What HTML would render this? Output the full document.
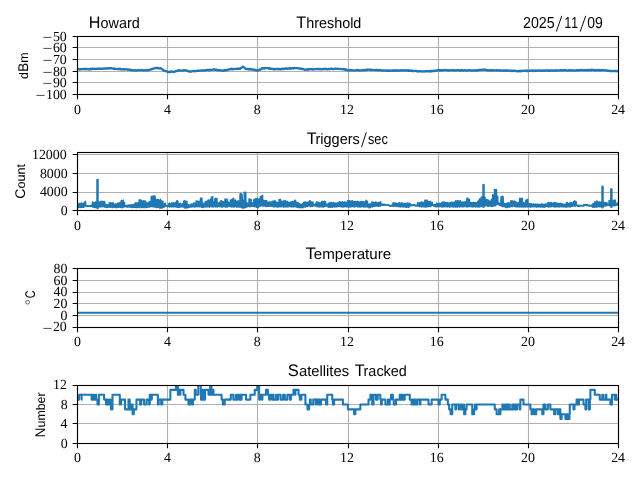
<!DOCTYPE html><html><head><meta charset="utf-8"><title>plot</title><style>html,body{margin:0;padding:0;background:#fff;}svg{display:block;will-change:transform;}text{fill:#000;text-rendering:geometricPrecision;font-kerning:none;white-space:pre;}.s{font-family:"Liberation Serif",serif;}.t{font-family:"Liberation Sans",sans-serif;}</style></head><body>
<svg width="640" height="480" viewBox="0 0 640 480">
<rect width="640" height="480" fill="#fff"/>
<path d="M77.5 36.5V94.5M167.5 36.5V94.5M257.5 36.5V94.5M348.5 36.5V94.5M438.5 36.5V94.5M528.5 36.5V94.5M618.5 36.5V94.5M77.5 36.5H618.5M77.5 47.5H618.5M77.5 59.5H618.5M77.5 71.5H618.5M77.5 82.5H618.5M77.5 94.5H618.5" stroke="#b0b0b0" stroke-width="1.11" fill="none"/>
<clipPath id="c0"><rect x="77.5" y="36.5" width="541.0" height="58.0"/></clipPath><g clip-path="url(#c0)"><path d="M78.0 69.27 L78.6 69.16 L79.2 69.45 L79.8 69.09 L80.4 69.35 L81.0 69.23 L81.6 69.03 L82.2 69.29 L82.8 68.99 L83.4 69.21 L84.0 68.98 L84.6 68.98 L85.2 69.16 L85.8 69.39 L86.4 68.95 L87.0 69.00 L87.6 69.22 L88.2 69.40 L88.8 69.16 L89.4 69.04 L90.0 69.37 L90.6 68.79 L91.2 69.26 L91.8 68.90 L92.4 68.79 L93.0 68.76 L93.6 68.86 L94.2 69.14 L94.8 68.74 L95.4 68.97 L96.0 68.98 L96.6 68.81 L97.2 68.89 L97.8 68.58 L98.4 68.56 L99.0 68.63 L99.6 68.90 L100.2 68.73 L100.8 68.64 L101.4 68.78 L102.0 68.66 L102.6 68.54 L103.2 68.80 L103.8 68.71 L104.4 68.40 L105.0 68.57 L105.6 68.50 L106.2 68.68 L106.8 68.56 L107.4 68.26 L108.0 68.64 L108.6 68.09 L109.2 68.23 L109.8 68.41 L110.4 68.10 L111.0 68.35 L111.6 68.13 L112.2 68.56 L112.8 68.66 L113.4 68.60 L114.0 68.83 L114.6 68.54 L115.2 68.82 L115.8 68.81 L116.4 68.85 L117.0 68.83 L117.6 69.10 L118.2 69.21 L118.8 68.97 L119.4 69.13 L120.0 68.81 L120.6 69.24 L121.2 69.25 L121.8 69.50 L122.4 69.44 L123.0 69.16 L123.6 69.26 L124.2 69.47 L124.8 69.13 L125.4 69.43 L126.0 69.30 L126.6 69.33 L127.2 69.36 L127.8 69.84 L128.4 69.52 L129.0 69.65 L129.6 69.79 L130.2 70.14 L130.8 69.73 L131.4 70.01 L132.0 70.13 L132.6 70.39 L133.2 70.41 L133.8 70.50 L134.4 70.21 L135.0 70.32 L135.6 70.28 L136.2 70.59 L136.8 70.63 L137.4 70.14 L138.0 70.14 L138.6 70.17 L139.2 70.17 L139.8 70.31 L140.4 70.37 L141.0 70.16 L141.6 70.00 L142.2 70.24 L142.8 70.21 L143.4 70.32 L144.0 70.54 L144.6 70.38 L145.2 70.27 L145.8 70.32 L146.4 70.30 L147.0 69.83 L147.6 70.25 L148.2 70.09 L148.8 70.05 L149.4 69.92 L150.0 69.59 L150.6 69.50 L151.2 69.21 L151.8 69.36 L152.4 68.85 L153.0 68.69 L153.6 68.61 L154.2 68.42 L154.8 68.36 L155.4 68.02 L156.0 67.83 L156.6 67.96 L157.2 67.98 L157.8 68.18 L158.4 68.02 L159.0 68.57 L159.6 68.46 L160.2 68.23 L160.8 68.34 L161.4 68.68 L162.0 69.09 L162.6 69.34 L163.2 70.18 L163.8 70.66 L164.4 70.75 L165.0 71.06 L165.6 70.98 L166.2 71.15 L166.8 71.45 L167.4 71.57 L168.0 72.06 L168.6 71.79 L169.2 71.67 L169.8 72.19 L170.4 71.90 L171.0 71.64 L171.6 71.84 L172.2 71.49 L172.8 71.76 L173.4 71.99 L174.0 71.89 L174.6 71.75 L175.2 71.33 L175.8 71.20 L176.4 70.88 L177.0 71.04 L177.6 70.69 L178.2 70.64 L178.8 70.27 L179.4 70.21 L180.0 70.56 L180.6 70.67 L181.2 70.59 L181.8 70.56 L182.4 70.57 L183.0 70.52 L183.6 70.21 L184.2 70.39 L184.8 70.30 L185.4 70.21 L186.0 70.32 L186.6 70.58 L187.2 70.67 L187.8 71.04 L188.4 71.31 L189.0 71.11 L189.6 71.51 L190.2 71.65 L190.8 71.74 L191.4 71.37 L192.0 71.21 L192.6 71.14 L193.2 71.05 L193.8 70.99 L194.4 71.17 L195.0 71.26 L195.6 71.15 L196.2 70.86 L196.8 70.90 L197.4 70.92 L198.0 70.46 L198.6 70.77 L199.2 70.88 L199.8 70.77 L200.4 70.72 L201.0 70.52 L201.6 70.31 L202.2 70.64 L202.8 70.33 L203.4 70.58 L204.0 70.65 L204.6 70.27 L205.2 70.24 L205.8 70.53 L206.4 70.35 L207.0 69.97 L207.6 69.89 L208.2 69.85 L208.8 70.25 L209.4 70.14 L210.0 69.69 L210.6 70.05 L211.2 70.09 L211.8 69.85 L212.4 69.61 L213.0 69.68 L213.6 69.38 L214.2 69.26 L214.8 69.79 L215.4 69.70 L216.0 69.72 L216.6 70.07 L217.2 69.87 L217.8 70.23 L218.4 70.30 L219.0 70.03 L219.6 70.16 L220.2 70.28 L220.8 70.35 L221.4 70.66 L222.0 70.56 L222.6 70.64 L223.2 70.35 L223.8 70.71 L224.4 70.26 L225.0 70.21 L225.6 70.18 L226.2 70.26 L226.8 69.86 L227.4 70.04 L228.0 69.68 L228.6 69.59 L229.2 69.47 L229.8 69.06 L230.4 69.20 L231.0 68.93 L231.6 68.80 L232.2 69.24 L232.8 68.84 L233.4 68.99 L234.0 69.11 L234.6 68.98 L235.2 68.81 L235.8 68.90 L236.4 68.91 L237.0 69.05 L237.6 68.64 L238.2 68.91 L238.8 68.72 L239.4 68.74 L240.0 68.86 L240.6 68.27 L241.2 67.87 L241.8 67.55 L242.4 67.21 L243.0 66.68 L243.6 67.21 L244.2 67.58 L244.8 68.02 L245.4 68.56 L246.0 68.85 L246.6 68.92 L247.2 68.92 L247.8 69.23 L248.4 69.11 L249.0 69.25 L249.6 69.32 L250.2 68.94 L250.8 69.15 L251.4 69.49 L252.0 69.58 L252.6 69.31 L253.2 69.45 L253.8 69.79 L254.4 69.72 L255.0 69.97 L255.6 70.02 L256.2 70.46 L256.8 70.48 L257.4 70.50 L258.0 70.01 L258.6 70.30 L259.2 70.18 L259.8 69.51 L260.4 69.59 L261.0 69.28 L261.6 68.47 L262.2 68.55 L262.8 68.17 L263.4 68.20 L264.0 68.49 L264.6 68.37 L265.2 67.95 L265.8 68.09 L266.4 68.19 L267.0 68.17 L267.6 68.17 L268.2 68.32 L268.8 68.65 L269.4 68.31 L270.0 68.72 L270.6 68.73 L271.2 68.56 L271.8 68.84 L272.4 69.08 L273.0 69.02 L273.6 68.76 L274.2 69.32 L274.8 69.22 L275.4 69.34 L276.0 68.83 L276.6 68.93 L277.2 68.81 L277.8 69.26 L278.4 68.96 L279.0 68.89 L279.6 69.08 L280.2 69.34 L280.8 69.24 L281.4 68.86 L282.0 68.75 L282.6 69.17 L283.2 68.92 L283.8 68.96 L284.4 68.55 L285.0 68.48 L285.6 68.82 L286.2 68.62 L286.8 68.36 L287.4 68.84 L288.0 68.62 L288.6 68.67 L289.2 68.21 L289.8 68.64 L290.4 68.13 L291.0 68.57 L291.6 68.29 L292.2 68.18 L292.8 68.27 L293.4 68.46 L294.0 68.03 L294.6 67.91 L295.2 68.19 L295.8 68.07 L296.4 68.06 L297.0 68.15 L297.6 68.14 L298.2 68.29 L298.8 68.42 L299.4 68.47 L300.0 68.81 L300.6 68.58 L301.2 68.80 L301.8 68.77 L302.4 69.03 L303.0 68.99 L303.6 69.29 L304.2 69.31 L304.8 69.88 L305.4 69.72 L306.0 69.44 L306.6 69.55 L307.2 69.77 L307.8 69.21 L308.4 69.58 L309.0 69.28 L309.6 69.26 L310.2 69.41 L310.8 69.08 L311.4 69.14 L312.0 69.26 L312.6 69.45 L313.2 69.09 L313.8 69.39 L314.4 69.33 L315.0 69.31 L315.6 69.18 L316.2 69.15 L316.8 68.97 L317.4 69.00 L318.0 68.95 L318.6 69.34 L319.2 69.04 L319.8 68.97 L320.4 68.91 L321.0 69.35 L321.6 69.36 L322.2 69.23 L322.8 68.98 L323.4 68.95 L324.0 68.97 L324.6 69.05 L325.2 68.86 L325.8 69.02 L326.4 68.90 L327.0 69.31 L327.6 69.30 L328.2 69.03 L328.8 68.85 L329.4 69.28 L330.0 68.89 L330.6 68.91 L331.2 68.70 L331.8 68.93 L332.4 68.98 L333.0 69.00 L333.6 68.82 L334.2 69.00 L334.8 68.70 L335.4 68.86 L336.0 68.75 L336.6 68.94 L337.2 68.73 L337.8 68.71 L338.4 68.88 L339.0 68.84 L339.6 69.05 L340.2 69.02 L340.8 69.15 L341.4 69.09 L342.0 69.13 L342.6 69.23 L343.2 68.93 L343.8 68.99 L344.4 69.56 L345.0 69.24 L345.6 69.76 L346.2 69.90 L346.8 69.72 L347.4 70.33 L348.0 70.38 L348.6 70.23 L349.2 70.30 L349.8 70.36 L350.4 69.97 L351.0 70.21 L351.6 70.21 L352.2 70.42 L352.8 70.42 L353.4 70.44 L354.0 70.31 L354.6 70.51 L355.2 70.39 L355.8 70.41 L356.4 70.15 L357.0 70.04 L357.6 70.11 L358.2 70.26 L358.8 70.12 L359.4 70.57 L360.0 70.39 L360.6 70.40 L361.2 70.36 L361.8 70.36 L362.4 70.20 L363.0 69.87 L363.6 70.31 L364.2 70.25 L364.8 70.06 L365.4 70.04 L366.0 70.08 L366.6 69.69 L367.2 70.05 L367.8 69.72 L368.4 69.58 L369.0 69.66 L369.6 69.90 L370.2 69.60 L370.8 69.95 L371.4 70.13 L372.0 69.87 L372.6 69.84 L373.2 69.93 L373.8 70.09 L374.4 70.17 L375.0 70.11 L375.6 70.16 L376.2 69.85 L376.8 69.93 L377.4 70.03 L378.0 70.35 L378.6 70.12 L379.2 70.32 L379.8 70.02 L380.4 70.08 L381.0 70.24 L381.6 70.51 L382.2 70.55 L382.8 70.57 L383.4 70.37 L384.0 70.53 L384.6 70.53 L385.2 70.56 L385.8 70.39 L386.4 70.86 L387.0 70.43 L387.6 70.89 L388.2 70.86 L388.8 70.30 L389.4 70.56 L390.0 70.77 L390.6 70.85 L391.2 70.53 L391.8 70.41 L392.4 70.37 L393.0 70.80 L393.6 70.36 L394.2 70.57 L394.8 70.30 L395.4 70.52 L396.0 70.77 L396.6 70.28 L397.2 70.69 L397.8 70.51 L398.4 70.73 L399.0 70.62 L399.6 70.34 L400.2 70.74 L400.8 70.49 L401.4 70.21 L402.0 70.20 L402.6 70.50 L403.2 70.47 L403.8 70.38 L404.4 70.28 L405.0 70.41 L405.6 70.39 L406.2 70.70 L406.8 70.20 L407.4 70.65 L408.0 70.70 L408.6 70.28 L409.2 70.82 L409.8 70.74 L410.4 70.90 L411.0 70.59 L411.6 70.69 L412.2 70.75 L412.8 71.17 L413.4 70.97 L414.0 70.89 L414.6 70.98 L415.2 70.94 L415.8 70.85 L416.4 70.94 L417.0 71.43 L417.6 71.12 L418.2 71.51 L418.8 71.10 L419.4 71.11 L420.0 71.26 L420.6 71.06 L421.2 71.17 L421.8 71.52 L422.4 71.48 L423.0 71.44 L423.6 71.33 L424.2 71.50 L424.8 71.51 L425.4 71.28 L426.0 71.38 L426.6 70.98 L427.2 71.39 L427.8 71.22 L428.4 71.40 L429.0 71.34 L429.6 71.12 L430.2 70.98 L430.8 71.51 L431.4 70.98 L432.0 71.11 L432.6 70.96 L433.2 70.85 L433.8 71.04 L434.4 71.11 L435.0 70.61 L435.6 70.77 L436.2 70.49 L436.8 70.58 L437.4 70.42 L438.0 70.23 L438.6 70.16 L439.2 70.13 L439.8 70.49 L440.4 70.25 L441.0 70.09 L441.6 70.50 L442.2 70.56 L442.8 70.23 L443.4 70.05 L444.0 70.08 L444.6 70.02 L445.2 70.17 L445.8 70.03 L446.4 70.12 L447.0 70.13 L447.6 70.32 L448.2 70.51 L448.8 70.43 L449.4 70.23 L450.0 70.23 L450.6 70.30 L451.2 70.22 L451.8 70.19 L452.4 70.03 L453.0 70.16 L453.6 70.58 L454.2 70.08 L454.8 70.30 L455.4 70.38 L456.0 70.52 L456.6 70.14 L457.2 70.17 L457.8 70.16 L458.4 70.25 L459.0 70.28 L459.6 70.59 L460.2 70.53 L460.8 70.55 L461.4 70.04 L462.0 70.05 L462.6 70.45 L463.2 70.57 L463.8 70.32 L464.4 70.39 L465.0 70.04 L465.6 70.27 L466.2 70.60 L466.8 70.54 L467.4 70.56 L468.0 70.63 L468.6 70.20 L469.2 70.12 L469.8 70.15 L470.4 70.37 L471.0 70.47 L471.6 70.62 L472.2 70.49 L472.8 70.45 L473.4 70.52 L474.0 70.34 L474.6 70.40 L475.2 70.10 L475.8 70.54 L476.4 70.18 L477.0 70.54 L477.6 70.33 L478.2 70.07 L478.8 69.92 L479.4 69.94 L480.0 70.12 L480.6 70.11 L481.2 69.71 L481.8 69.63 L482.4 69.86 L483.0 69.84 L483.6 69.69 L484.2 69.65 L484.8 69.94 L485.4 69.65 L486.0 69.88 L486.6 70.04 L487.2 70.40 L487.8 70.27 L488.4 70.47 L489.0 70.25 L489.6 70.11 L490.2 70.13 L490.8 70.57 L491.4 70.43 L492.0 70.20 L492.6 70.05 L493.2 70.34 L493.8 70.46 L494.4 70.32 L495.0 70.23 L495.6 70.49 L496.2 70.66 L496.8 70.25 L497.4 70.15 L498.0 70.34 L498.6 70.40 L499.2 70.57 L499.8 70.29 L500.4 70.67 L501.0 70.64 L501.6 70.52 L502.2 70.36 L502.8 70.83 L503.4 70.45 L504.0 70.77 L504.6 70.43 L505.2 70.44 L505.8 70.78 L506.4 70.52 L507.0 70.93 L507.6 70.67 L508.2 70.50 L508.8 70.54 L509.4 70.67 L510.0 70.84 L510.6 71.03 L511.2 70.56 L511.8 70.72 L512.4 70.63 L513.0 71.10 L513.6 70.62 L514.2 70.58 L514.8 70.60 L515.4 70.82 L516.0 71.14 L516.6 71.15 L517.2 71.07 L517.8 71.25 L518.4 71.22 L519.0 70.88 L519.6 70.81 L520.2 71.25 L520.8 71.12 L521.4 70.67 L522.0 71.03 L522.6 70.85 L523.2 70.83 L523.8 70.78 L524.4 70.67 L525.0 70.55 L525.6 70.70 L526.2 70.73 L526.8 71.07 L527.4 70.56 L528.0 71.04 L528.6 70.57 L529.2 70.66 L529.8 70.93 L530.4 70.93 L531.0 70.69 L531.6 70.45 L532.2 70.70 L532.8 70.63 L533.4 70.96 L534.0 70.52 L534.6 70.61 L535.2 70.93 L535.8 70.40 L536.4 70.62 L537.0 70.86 L537.6 70.83 L538.2 70.39 L538.8 70.38 L539.4 70.39 L540.0 70.90 L540.6 70.49 L541.2 70.78 L541.8 70.87 L542.4 70.53 L543.0 70.48 L543.6 70.89 L544.2 70.68 L544.8 70.46 L545.4 70.73 L546.0 70.48 L546.6 70.45 L547.2 70.28 L547.8 70.73 L548.4 70.82 L549.0 70.64 L549.6 70.82 L550.2 70.27 L550.8 70.39 L551.4 70.53 L552.0 70.81 L552.6 70.80 L553.2 70.46 L553.8 70.37 L554.4 70.47 L555.0 70.51 L555.6 70.76 L556.2 70.29 L556.8 70.60 L557.4 70.52 L558.0 70.57 L558.6 70.54 L559.2 70.44 L559.8 70.27 L560.4 70.27 L561.0 70.29 L561.6 70.54 L562.2 70.12 L562.8 70.19 L563.4 70.53 L564.0 70.22 L564.6 70.11 L565.2 70.10 L565.8 70.41 L566.4 70.27 L567.0 70.66 L567.6 70.61 L568.2 70.67 L568.8 70.23 L569.4 70.13 L570.0 70.13 L570.6 70.37 L571.2 70.50 L571.8 70.34 L572.4 70.22 L573.0 70.33 L573.6 70.45 L574.2 70.48 L574.8 70.52 L575.4 70.56 L576.0 70.44 L576.6 70.09 L577.2 70.51 L577.8 70.16 L578.4 70.31 L579.0 70.18 L579.6 70.38 L580.2 70.04 L580.8 70.05 L581.4 70.03 L582.0 69.96 L582.6 70.38 L583.2 70.18 L583.8 70.02 L584.4 70.05 L585.0 70.40 L585.6 70.10 L586.2 69.93 L586.8 70.26 L587.4 70.16 L588.0 70.36 L588.6 69.81 L589.2 70.03 L589.8 70.23 L590.4 70.23 L591.0 70.27 L591.6 69.73 L592.2 69.88 L592.8 69.79 L593.4 69.85 L594.0 70.34 L594.6 70.12 L595.2 70.35 L595.8 70.03 L596.4 70.34 L597.0 70.11 L597.6 70.02 L598.2 70.35 L598.8 70.46 L599.4 69.98 L600.0 70.29 L600.6 70.32 L601.2 70.10 L601.8 70.21 L602.4 70.09 L603.0 70.14 L603.6 70.19 L604.2 70.42 L604.8 70.47 L605.4 70.28 L606.0 70.23 L606.6 70.49 L607.2 70.78 L607.8 70.55 L608.4 70.70 L609.0 70.71 L609.6 71.13 L610.2 71.06 L610.8 70.84 L611.4 70.88 L612.0 71.04 L612.6 71.13 L613.2 71.17 L613.8 70.83 L614.4 70.86 L615.0 71.17 L615.6 70.99 L616.2 70.90 L616.8 70.90 L617.4 71.28 L618.0 70.89" fill="none" stroke="#1f77b4" stroke-width="2.35" stroke-linejoin="round"/></g>
<path d="M77.5 94.5v4.86M167.5 94.5v4.86M257.5 94.5v4.86M348.5 94.5v4.86M438.5 94.5v4.86M528.5 94.5v4.86M618.5 94.5v4.86M77.5 36.5h-4.86M77.5 47.5h-4.86M77.5 59.5h-4.86M77.5 71.5h-4.86M77.5 82.5h-4.86M77.5 94.5h-4.86" stroke="#000" stroke-width="1.11" fill="none"/>
<rect x="77.5" y="36.5" width="541.0" height="58.0" fill="none" stroke="#000" stroke-width="1.11"/>
<text class="s" font-size="13.9" x="74.03" y="114.00">0</text>
<text class="s" font-size="13.9" x="163.90" y="114.00">4</text>
<text class="s" font-size="13.9" x="253.83" y="114.00">8</text>
<text class="s" font-size="13.9" x="340.02" y="114.00">12</text>
<text class="s" font-size="13.9" x="429.85" y="114.00">16</text>
<text class="s" font-size="13.9" x="521.01" y="114.00">20</text>
<text class="s" font-size="13.9" x="611.15" y="114.00">24</text>
<text class="s" font-size="13.9" x="52.93" y="41.00">50</text>
<text class="s" font-size="13.9" x="52.93" y="52.00">60</text>
<text class="s" font-size="13.9" x="52.93" y="64.00">70</text>
<text class="s" font-size="13.9" x="52.93" y="76.00">80</text>
<text class="s" font-size="13.9" x="52.93" y="87.00">90</text>
<text class="s" font-size="13.9" x="45.98" y="99.00">100</text>
<path d="M43.36 37.40h8.2M43.36 48.40h8.2M43.36 60.40h8.2M43.36 72.40h8.2M43.36 83.40h8.2M36.41 95.40h8.2" stroke="#000" stroke-width="0.7" fill="none"/>
<path d="M77.5 152.5V210.5M167.5 152.5V210.5M257.5 152.5V210.5M348.5 152.5V210.5M438.5 152.5V210.5M528.5 152.5V210.5M618.5 152.5V210.5M77.5 210.5H618.5M77.5 192.5H618.5M77.5 173.5H618.5M77.5 154.5H618.5" stroke="#b0b0b0" stroke-width="1.11" fill="none"/>
<clipPath id="c1"><rect x="77.5" y="152.5" width="541.0" height="58.0"/></clipPath><g clip-path="url(#c1)"><path d="M77.90 203.44 L78.20 207.79 L78.50 203.87 L78.80 207.68 L79.10 203.08 L79.40 207.44 L79.70 203.70 L80.00 207.47 L80.30 203.04 L80.60 207.61 L80.90 203.78 L81.20 207.36 L81.50 202.75 L81.80 207.38 L82.10 203.18 L82.40 207.51 L82.70 203.22 L83.00 207.52 L83.30 203.23 L83.60 207.41 L83.90 202.64 L84.20 207.23 L84.50 202.41 L84.80 206.77 L85.10 201.60 L85.40 206.32 L85.70 201.15 L86.00 205.95 L86.30 205.54 L86.60 206.57 L86.90 205.71 L87.20 206.52 L87.50 205.42 L87.80 206.63 L88.10 205.44 L88.40 206.56 L88.70 205.63 L89.00 206.33 L89.30 205.63 L89.60 206.53 L89.90 205.70 L90.20 206.38 L90.50 205.23 L90.80 206.35 L91.10 205.19 L91.40 206.56 L91.70 204.83 L92.00 206.76 L92.30 201.68 L92.60 207.31 L92.90 201.76 L93.20 207.25 L93.50 202.44 L93.80 207.18 L94.10 202.58 L94.40 207.54 L94.70 202.56 L95.00 207.63 L95.30 201.78 L95.60 207.72 L95.90 201.77 L96.20 207.15 L96.50 201.89 L96.80 206.93 L97.10 201.81 L97.40 207.35 L97.70 202.52 L98.00 206.82 L98.30 202.16 L98.60 207.34 L98.90 202.18 L99.20 206.64 L99.50 202.62 L99.80 207.11 L100.10 201.26 L100.40 206.76 L100.70 201.76 L101.00 207.07 L101.30 201.05 L101.60 206.99 L101.90 201.98 L102.20 206.73 L102.50 201.00 L102.80 206.97 L103.10 201.43 L103.40 206.71 L103.70 201.23 L104.00 206.76 L104.30 201.35 L104.60 207.09 L104.90 201.58 L105.20 207.56 L105.50 204.60 L105.80 207.29 L106.10 204.27 L106.40 207.80 L106.70 204.91 L107.00 207.11 L107.30 204.77 L107.60 207.62 L107.90 204.57 L108.20 207.30 L108.50 205.03 L108.80 207.42 L109.10 202.49 L109.40 207.11 L109.70 202.80 L110.00 207.26 L110.30 202.86 L110.60 207.75 L110.90 202.42 L111.20 207.14 L111.50 203.14 L111.80 207.11 L112.10 203.09 L112.40 207.69 L112.70 202.70 L113.00 207.29 L113.30 202.29 L113.60 207.66 L113.90 204.35 L114.20 207.54 L114.50 203.94 L114.80 207.31 L115.10 204.14 L115.40 207.80 L115.70 203.52 L116.00 207.70 L116.30 204.44 L116.60 207.80 L116.90 203.83 L117.20 207.60 L117.50 202.94 L117.80 207.48 L118.10 203.09 L118.40 207.45 L118.70 202.97 L119.00 207.27 L119.30 202.87 L119.60 207.22 L119.90 202.28 L120.20 207.38 L120.50 202.39 L120.80 207.65 L121.10 200.38 L121.40 207.15 L121.70 200.34 L122.00 207.76 L122.30 200.64 L122.60 207.83 L122.90 200.69 L123.20 207.19 L123.50 199.78 L123.80 207.46 L124.10 203.08 L124.40 206.73 L124.70 202.35 L125.00 206.76 L125.30 205.17 L125.60 206.81 L125.90 205.47 L126.20 207.43 L126.50 205.25 L126.80 206.76 L127.10 205.16 L127.40 207.08 L127.70 205.45 L128.00 207.57 L128.30 204.84 L128.60 206.96 L128.90 204.95 L129.20 207.03 L129.50 205.24 L129.80 207.25 L130.10 204.62 L130.40 207.31 L130.70 205.07 L131.00 207.66 L131.30 204.62 L131.60 207.16 L131.90 204.91 L132.20 207.60 L132.50 204.48 L132.80 207.81 L133.10 204.21 L133.40 207.26 L133.70 204.39 L134.00 207.40 L134.30 205.01 L134.60 207.53 L134.90 203.00 L135.20 207.38 L135.50 202.58 L135.80 207.63 L136.10 202.99 L136.40 207.72 L136.70 202.83 L137.00 207.81 L137.30 202.49 L137.60 207.66 L137.90 203.09 L138.20 207.30 L138.50 202.58 L138.80 207.36 L139.10 199.31 L139.40 207.18 L139.70 200.09 L140.00 207.89 L140.30 199.92 L140.60 207.26 L140.90 199.76 L141.20 207.41 L141.50 200.41 L141.80 207.65 L142.10 200.88 L142.40 207.21 L142.70 200.98 L143.00 207.83 L143.30 200.81 L143.60 207.44 L143.90 200.60 L144.20 207.72 L144.50 201.08 L144.80 207.61 L145.10 200.83 L145.40 207.18 L145.70 200.79 L146.00 207.60 L146.30 202.50 L146.60 207.60 L146.90 202.66 L147.20 207.25 L147.50 202.90 L147.80 207.49 L148.10 203.22 L148.40 207.23 L148.70 201.78 L149.00 207.06 L149.30 201.57 L149.60 207.23 L149.90 201.64 L150.20 207.00 L150.50 201.95 L150.80 206.84 L151.10 196.76 L151.40 206.76 L151.70 196.06 L152.00 206.49 L152.30 196.42 L152.60 206.76 L152.90 196.27 L153.20 207.23 L153.50 195.90 L153.80 206.79 L154.10 195.59 L154.40 207.12 L154.70 196.01 L155.00 206.66 L155.30 196.34 L155.60 207.35 L155.90 199.94 L156.20 207.54 L156.50 199.25 L156.80 207.78 L157.10 199.39 L157.40 207.44 L157.70 199.31 L158.00 207.32 L158.30 199.37 L158.60 207.47 L158.90 199.76 L159.20 208.02 L159.50 199.98 L159.80 208.15 L160.10 199.91 L160.40 208.08 L160.70 199.14 L161.00 208.25 L161.30 200.63 L161.60 207.76 L161.90 201.15 L162.20 208.15 L162.50 201.17 L162.80 207.76 L163.10 201.16 L163.40 207.76 L163.70 203.71 L164.00 207.27 L164.30 203.62 L164.60 206.99 L164.90 203.14 L165.20 206.64 L165.50 202.93 L165.80 206.34 L166.10 205.25 L166.40 206.27 L166.70 205.51 L167.00 206.63 L167.30 205.54 L167.60 207.02 L167.90 204.83 L168.20 206.42 L168.50 203.48 L168.80 206.74 L169.10 203.86 L169.40 207.19 L169.70 202.91 L170.00 206.75 L170.30 203.74 L170.60 206.90 L170.90 203.65 L171.20 206.81 L171.50 202.80 L171.80 207.14 L172.10 202.65 L172.40 206.88 L172.70 203.22 L173.00 206.74 L173.30 202.57 L173.60 206.98 L173.90 203.03 L174.20 207.18 L174.50 202.80 L174.80 206.48 L175.10 202.44 L175.40 207.00 L175.70 203.04 L176.00 206.97 L176.30 201.00 L176.60 207.17 L176.90 200.59 L177.20 207.39 L177.50 200.48 L177.80 207.54 L178.10 201.29 L178.40 207.73 L178.70 203.66 L179.00 207.22 L179.30 203.30 L179.60 207.34 L179.90 203.81 L180.20 206.71 L180.50 202.99 L180.80 207.26 L181.10 203.95 L181.40 207.05 L181.70 204.44 L182.00 207.05 L182.30 203.60 L182.60 207.00 L182.90 203.52 L183.20 207.12 L183.50 201.34 L183.80 207.30 L184.10 200.39 L184.40 207.99 L184.70 200.56 L185.00 208.17 L185.30 201.23 L185.60 208.23 L185.90 201.08 L186.20 207.93 L186.50 201.34 L186.80 207.74 L187.10 201.03 L187.40 207.92 L187.70 204.85 L188.00 207.86 L188.30 204.18 L188.60 207.63 L188.90 204.80 L189.20 207.37 L189.50 204.77 L189.80 207.18 L190.10 204.91 L190.40 207.13 L190.70 204.42 L191.00 207.04 L191.30 203.70 L191.60 207.26 L191.90 203.71 L192.20 206.82 L192.50 203.76 L192.80 206.96 L193.10 203.77 L193.40 206.48 L193.70 202.51 L194.00 207.13 L194.30 203.14 L194.60 207.12 L194.90 203.12 L195.20 207.16 L195.50 203.06 L195.80 206.75 L196.10 200.46 L196.40 206.64 L196.70 201.13 L197.00 206.96 L197.30 201.05 L197.60 206.68 L197.90 201.13 L198.20 206.55 L198.50 201.18 L198.80 206.94 L199.10 201.27 L199.40 206.86 L199.70 200.96 L200.00 206.62 L200.30 197.95 L200.60 206.80 L200.90 197.77 L201.20 207.27 L201.50 198.25 L201.80 207.45 L202.10 198.03 L202.40 207.48 L202.70 202.90 L203.00 207.61 L203.30 203.36 L203.60 207.39 L203.90 203.30 L204.20 207.27 L204.50 203.84 L204.80 206.64 L205.10 201.18 L205.40 206.92 L205.70 201.87 L206.00 207.20 L206.30 201.06 L206.60 206.57 L206.90 201.96 L207.20 206.99 L207.50 200.71 L207.80 206.83 L208.10 199.91 L208.40 206.65 L208.70 199.79 L209.00 207.20 L209.30 200.65 L209.60 207.10 L209.90 199.83 L210.20 206.52 L210.50 199.27 L210.80 207.02 L211.10 196.92 L211.40 206.56 L211.70 196.95 L212.00 206.86 L212.30 196.79 L212.60 207.02 L212.90 196.64 L213.20 206.50 L213.50 201.30 L213.80 207.17 L214.10 201.26 L214.40 206.55 L214.70 198.80 L215.00 206.84 L215.30 198.21 L215.60 206.98 L215.90 198.02 L216.20 207.05 L216.50 198.43 L216.80 206.69 L217.10 198.29 L217.40 207.15 L217.70 202.58 L218.00 206.73 L218.30 203.15 L218.60 206.52 L218.90 203.15 L219.20 206.86 L219.50 202.54 L219.80 206.77 L220.10 201.37 L220.40 206.55 L220.70 200.66 L221.00 207.06 L221.30 200.67 L221.60 207.12 L221.90 200.72 L222.20 207.14 L222.50 201.53 L222.80 207.20 L223.10 201.22 L223.40 206.62 L223.70 201.77 L224.00 206.54 L224.30 201.09 L224.60 206.69 L224.90 198.71 L225.20 207.12 L225.50 199.08 L225.80 207.06 L226.10 198.91 L226.40 207.12 L226.70 199.46 L227.00 206.87 L227.30 199.14 L227.60 207.17 L227.90 201.89 L228.20 206.77 L228.50 201.79 L228.80 206.48 L229.10 202.14 L229.40 206.57 L229.70 202.34 L230.00 206.73 L230.30 199.84 L230.60 206.52 L230.90 200.00 L231.20 206.89 L231.50 199.66 L231.80 207.25 L232.10 199.35 L232.40 206.68 L232.70 198.69 L233.00 207.03 L233.30 198.07 L233.60 206.94 L233.90 198.40 L234.20 207.17 L234.50 200.47 L234.80 206.87 L235.10 200.25 L235.40 206.80 L235.70 199.89 L236.00 206.59 L236.30 200.95 L236.60 207.14 L236.90 201.31 L237.20 207.15 L237.50 200.90 L237.80 207.10 L238.10 200.71 L238.40 206.82 L238.70 200.73 L239.00 207.13 L239.30 200.60 L239.60 207.24 L239.90 193.81 L240.20 207.13 L240.50 193.24 L240.80 207.17 L241.10 193.38 L241.40 207.80 L241.70 194.28 L242.00 207.93 L242.30 194.38 L242.60 208.10 L242.90 200.02 L243.20 208.16 L243.50 200.67 L243.80 208.12 L244.10 192.06 L244.40 207.72 L244.70 192.27 L245.00 208.01 L245.30 192.14 L245.60 207.53 L245.90 192.40 L246.20 207.33 L246.50 202.66 L246.80 206.86 L247.10 202.80 L247.40 206.92 L247.70 202.90 L248.00 206.50 L248.30 202.80 L248.60 206.13 L248.90 198.74 L249.20 206.39 L249.50 199.09 L249.80 206.97 L250.10 198.74 L250.40 206.70 L250.70 200.11 L251.00 206.60 L251.30 199.19 L251.60 206.52 L251.90 202.64 L252.20 206.37 L252.50 202.48 L252.80 206.21 L253.10 202.59 L253.40 206.38 L253.70 199.35 L254.00 206.57 L254.30 199.24 L254.60 206.75 L254.90 199.21 L255.20 206.97 L255.50 198.50 L255.80 206.82 L256.10 198.84 L256.40 207.37 L256.70 198.75 L257.00 207.50 L257.30 198.33 L257.60 207.85 L257.90 199.06 L258.20 208.03 L258.50 199.35 L258.80 206.95 L259.10 198.80 L259.40 206.67 L259.70 198.59 L260.00 206.44 L260.30 196.21 L260.60 205.91 L260.90 196.29 L261.20 205.82 L261.50 195.87 L261.80 205.74 L262.10 195.75 L262.40 206.16 L262.70 195.14 L263.00 206.13 L263.30 200.70 L263.60 205.93 L263.90 200.12 L264.20 206.31 L264.50 200.63 L264.80 206.20 L265.10 200.37 L265.40 206.27 L265.70 200.57 L266.00 206.63 L266.30 200.58 L266.60 206.57 L266.90 200.44 L267.20 206.56 L267.50 202.05 L267.80 206.26 L268.10 202.13 L268.40 206.35 L268.70 202.23 L269.00 206.36 L269.30 201.67 L269.60 206.10 L269.90 202.32 L270.20 206.52 L270.50 202.21 L270.80 206.25 L271.10 201.55 L271.40 206.38 L271.70 202.00 L272.00 206.20 L272.30 201.16 L272.60 206.33 L272.90 201.17 L273.20 206.89 L273.50 201.18 L273.80 207.09 L274.10 200.70 L274.40 206.61 L274.70 200.64 L275.00 206.94 L275.30 200.72 L275.60 206.52 L275.90 201.27 L276.20 206.83 L276.50 202.25 L276.80 207.22 L277.10 202.48 L277.40 207.13 L277.70 201.93 L278.00 206.87 L278.30 202.57 L278.60 207.05 L278.90 199.35 L279.20 206.86 L279.50 199.92 L279.80 206.76 L280.10 199.31 L280.40 206.92 L280.70 199.24 L281.00 206.80 L281.30 201.07 L281.60 206.76 L281.90 201.24 L282.20 206.66 L282.50 201.03 L282.80 206.60 L283.10 201.71 L283.40 207.14 L283.70 200.50 L284.00 207.12 L284.30 200.53 L284.60 206.78 L284.90 201.33 L285.20 206.88 L285.50 200.60 L285.80 207.04 L286.10 201.26 L286.40 206.77 L286.70 201.25 L287.00 207.17 L287.30 201.12 L287.60 206.69 L287.90 201.77 L288.20 206.93 L288.50 201.94 L288.80 206.62 L289.10 202.48 L289.40 206.56 L289.70 202.19 L290.00 206.71 L290.30 201.69 L290.60 206.58 L290.90 202.34 L291.20 207.20 L291.50 201.77 L291.80 206.58 L292.10 201.28 L292.40 207.01 L292.70 201.35 L293.00 207.03 L293.30 201.25 L293.60 206.98 L293.90 201.18 L294.20 207.06 L294.50 200.46 L294.80 206.60 L295.10 199.95 L295.40 206.51 L295.70 200.06 L296.00 207.15 L296.30 202.20 L296.60 206.97 L296.90 202.31 L297.20 207.44 L297.50 202.40 L297.80 207.61 L298.10 202.23 L298.40 207.16 L298.70 204.29 L299.00 207.70 L299.30 203.59 L299.60 207.70 L299.90 204.33 L300.20 207.86 L300.50 203.92 L300.80 207.69 L301.10 204.33 L301.40 207.14 L301.70 204.20 L302.00 207.84 L302.30 203.63 L302.60 207.66 L302.90 204.31 L303.20 207.88 L303.50 202.26 L303.80 207.07 L304.10 201.98 L304.40 207.12 L304.70 201.76 L305.00 206.92 L305.30 201.87 L305.60 207.32 L305.90 201.98 L306.20 206.55 L306.50 202.19 L306.80 206.75 L307.10 202.39 L307.40 206.67 L307.70 202.09 L308.00 206.17 L308.30 201.91 L308.60 206.00 L308.90 201.91 L309.20 206.21 L309.50 200.49 L309.80 206.14 L310.10 200.54 L310.40 206.64 L310.70 201.13 L311.00 206.63 L311.30 202.19 L311.60 206.20 L311.90 201.81 L312.20 206.59 L312.50 202.27 L312.80 206.37 L313.10 201.88 L313.40 205.87 L313.70 204.27 L314.00 206.00 L314.30 204.14 L314.60 205.98 L314.90 204.28 L315.20 206.11 L315.50 203.68 L315.80 206.14 L316.10 202.18 L316.40 206.14 L316.70 201.67 L317.00 206.76 L317.30 202.33 L317.60 206.65 L317.90 202.12 L318.20 206.86 L318.50 202.33 L318.80 206.83 L319.10 203.22 L319.40 206.83 L319.70 202.44 L320.00 207.15 L320.30 203.11 L320.60 206.70 L320.90 202.91 L321.20 206.75 L321.50 201.44 L321.80 207.20 L322.10 201.16 L322.40 206.93 L322.70 201.35 L323.00 206.73 L323.30 201.46 L323.60 207.14 L323.90 201.97 L324.20 206.95 L324.50 201.06 L324.80 206.39 L325.10 201.57 L325.40 206.52 L325.70 201.30 L326.00 205.87 L326.30 203.69 L326.60 206.22 L326.90 204.16 L327.20 206.78 L327.50 204.03 L327.80 206.84 L328.10 203.68 L328.40 207.14 L328.70 203.11 L329.00 207.46 L329.30 202.50 L329.60 207.14 L329.90 202.82 L330.20 207.36 L330.50 202.33 L330.80 207.16 L331.10 203.11 L331.40 207.34 L331.70 202.36 L332.00 206.74 L332.30 203.08 L332.60 207.36 L332.90 202.81 L333.20 207.13 L333.50 202.31 L333.80 206.49 L334.10 202.84 L334.40 207.04 L334.70 202.68 L335.00 207.17 L335.30 202.81 L335.60 206.61 L335.90 203.00 L336.20 207.02 L336.50 203.08 L336.80 207.06 L337.10 203.20 L337.40 206.96 L337.70 202.35 L338.00 206.57 L338.30 203.18 L338.60 206.63 L338.90 202.07 L339.20 206.57 L339.50 201.65 L339.80 206.62 L340.10 202.18 L340.40 206.78 L340.70 201.77 L341.00 207.03 L341.30 202.43 L341.60 206.75 L341.90 201.78 L342.20 207.12 L342.50 201.66 L342.80 207.02 L343.10 202.02 L343.40 207.15 L343.70 202.02 L344.00 206.54 L344.30 201.95 L344.60 206.95 L344.90 201.67 L345.20 206.85 L345.50 202.20 L345.80 206.48 L346.10 202.20 L346.40 206.84 L346.70 202.61 L347.00 207.01 L347.30 200.65 L347.60 206.68 L347.90 200.94 L348.20 207.27 L348.50 200.41 L348.80 207.17 L349.10 201.15 L349.40 206.77 L349.70 200.66 L350.00 207.23 L350.30 201.06 L350.60 207.07 L350.90 200.88 L351.20 206.92 L351.50 200.78 L351.80 206.73 L352.10 201.36 L352.40 206.67 L352.70 200.61 L353.00 206.48 L353.30 201.25 L353.60 206.93 L353.90 201.30 L354.20 206.72 L354.50 201.31 L354.80 207.22 L355.10 201.34 L355.40 206.54 L355.70 201.18 L356.00 206.76 L356.30 201.77 L356.60 206.53 L356.90 201.48 L357.20 206.68 L357.50 201.02 L357.80 207.04 L358.10 201.22 L358.40 206.96 L358.70 201.86 L359.00 207.06 L359.30 201.96 L359.60 207.12 L359.90 201.88 L360.20 206.63 L360.50 201.54 L360.80 207.21 L361.10 201.21 L361.40 206.99 L361.70 201.41 L362.00 206.52 L362.30 201.41 L362.60 206.74 L362.90 201.49 L363.20 206.85 L363.50 201.64 L363.80 207.27 L364.10 201.68 L364.40 206.74 L364.70 201.72 L365.00 207.09 L365.30 201.71 L365.60 206.91 L365.90 200.34 L366.20 206.96 L366.50 200.08 L366.80 207.04 L367.10 201.14 L367.40 207.09 L367.70 201.35 L368.00 206.98 L368.30 204.44 L368.60 207.34 L368.90 204.16 L369.20 208.15 L369.50 203.73 L369.80 207.71 L370.10 203.63 L370.40 207.74 L370.70 203.68 L371.00 207.01 L371.30 203.68 L371.60 206.62 L371.90 201.65 L372.20 207.20 L372.50 202.12 L372.80 206.98 L373.10 202.09 L373.40 206.36 L373.70 202.36 L374.00 206.53 L374.30 202.49 L374.60 206.47 L374.90 202.54 L375.20 206.26 L375.50 201.88 L375.80 206.20 L376.10 201.83 L376.40 206.18 L376.70 202.62 L377.00 206.00 L377.30 202.49 L377.60 206.45 L377.90 202.45 L378.20 206.24 L378.50 202.52 L378.80 206.33 L379.10 202.08 L379.40 206.02 L379.70 202.51 L380.00 206.54 L380.30 201.81 L380.60 206.09 L380.90 201.65 L381.20 205.72 L381.50 204.41 L381.80 205.39 L382.10 203.67 L382.40 205.19 L382.70 204.36 L383.00 205.69 L383.30 204.01 L383.60 205.56 L383.90 204.15 L384.20 205.21 L384.50 204.02 L384.80 205.58 L385.10 204.48 L385.40 205.29 L385.70 204.32 L386.00 205.43 L386.30 204.63 L386.60 205.30 L386.90 204.62 L387.20 205.35 L387.50 204.97 L387.80 205.60 L388.10 204.30 L388.40 205.25 L388.70 204.94 L389.00 205.96 L389.30 204.76 L389.60 206.16 L389.90 205.22 L390.20 206.53 L390.50 205.27 L390.80 206.14 L391.10 205.45 L391.40 206.18 L391.70 204.89 L392.00 206.34 L392.30 205.38 L392.60 206.25 L392.90 202.49 L393.20 206.52 L393.50 203.03 L393.80 206.41 L394.10 202.57 L394.40 206.10 L394.70 203.22 L395.00 206.53 L395.30 202.76 L395.60 206.04 L395.90 202.88 L396.20 206.47 L396.50 203.27 L396.80 206.59 L397.10 203.20 L397.40 206.38 L397.70 203.49 L398.00 206.73 L398.30 203.60 L398.60 206.65 L398.90 202.39 L399.20 206.89 L399.50 202.78 L399.80 206.61 L400.10 203.07 L400.40 207.14 L400.70 203.14 L401.00 206.78 L401.30 203.08 L401.60 206.60 L401.90 202.50 L402.20 207.12 L402.50 202.77 L402.80 206.79 L403.10 203.25 L403.40 206.86 L403.70 203.67 L404.00 207.08 L404.30 203.24 L404.60 206.91 L404.90 203.22 L405.20 206.85 L405.50 203.45 L405.80 207.34 L406.10 203.15 L406.40 207.50 L406.70 202.97 L407.00 207.07 L407.30 203.30 L407.60 207.28 L407.90 202.92 L408.20 207.63 L408.50 203.17 L408.80 207.45 L409.10 203.23 L409.40 206.94 L409.70 203.07 L410.00 205.90 L410.30 203.54 L410.60 205.83 L410.90 204.50 L411.20 205.95 L411.50 204.57 L411.80 205.65 L412.10 204.59 L412.40 205.60 L412.70 204.81 L413.00 205.63 L413.30 204.87 L413.60 205.70 L413.90 204.17 L414.20 205.84 L414.50 204.62 L414.80 205.62 L415.10 204.99 L415.40 205.99 L415.70 204.92 L416.00 206.26 L416.30 204.95 L416.60 206.22 L416.90 205.33 L417.20 206.54 L417.50 202.40 L417.80 205.95 L418.10 203.24 L418.40 206.29 L418.70 202.51 L419.00 206.55 L419.30 202.67 L419.60 206.94 L419.90 203.05 L420.20 206.50 L420.50 202.30 L420.80 206.81 L421.10 202.11 L421.40 207.12 L421.70 201.83 L422.00 206.52 L422.30 201.94 L422.60 206.93 L422.90 201.95 L423.20 206.71 L423.50 202.34 L423.80 206.84 L424.10 202.56 L424.40 206.52 L424.70 200.18 L425.00 207.17 L425.30 199.82 L425.60 207.21 L425.90 200.31 L426.20 207.01 L426.50 200.42 L426.80 207.15 L427.10 199.90 L427.40 206.53 L427.70 201.10 L428.00 206.68 L428.30 201.66 L428.60 206.80 L428.90 201.15 L429.20 206.18 L429.50 201.84 L429.80 206.52 L430.10 201.32 L430.40 206.68 L430.70 201.32 L431.00 206.49 L431.30 202.61 L431.60 205.95 L431.90 202.27 L432.20 205.52 L432.50 202.09 L432.80 205.79 L433.10 204.24 L433.40 206.17 L433.70 205.12 L434.00 205.91 L434.30 204.47 L434.60 206.66 L434.90 204.22 L435.20 206.63 L435.50 204.67 L435.80 206.61 L436.10 203.77 L436.40 207.21 L436.70 202.91 L437.00 206.75 L437.30 203.82 L437.60 206.74 L437.90 203.32 L438.20 206.62 L438.50 203.66 L438.80 206.92 L439.10 202.97 L439.40 206.95 L439.70 203.34 L440.00 206.55 L440.30 203.52 L440.60 206.76 L440.90 203.25 L441.20 206.61 L441.50 202.57 L441.80 207.17 L442.10 202.11 L442.40 207.18 L442.70 201.74 L443.00 206.57 L443.30 202.09 L443.60 206.88 L443.90 201.99 L444.20 206.64 L444.50 201.75 L444.80 206.88 L445.10 202.52 L445.40 206.87 L445.70 202.42 L446.00 206.66 L446.30 203.00 L446.60 206.50 L446.90 202.64 L447.20 207.19 L447.50 202.33 L447.80 206.95 L448.10 203.03 L448.40 206.67 L448.70 202.85 L449.00 206.97 L449.30 202.94 L449.60 207.12 L449.90 202.71 L450.20 207.23 L450.50 202.66 L450.80 206.67 L451.10 202.36 L451.40 206.75 L451.70 201.77 L452.00 206.74 L452.30 202.60 L452.60 206.86 L452.90 202.12 L453.20 207.08 L453.50 202.26 L453.80 207.15 L454.10 202.41 L454.40 206.75 L454.70 201.79 L455.00 207.07 L455.30 200.51 L455.60 207.20 L455.90 201.12 L456.20 206.95 L456.50 200.81 L456.80 207.17 L457.10 200.67 L457.40 207.23 L457.70 200.49 L458.00 206.68 L458.30 201.21 L458.60 206.84 L458.90 200.61 L459.20 207.02 L459.50 201.09 L459.80 207.11 L460.10 201.06 L460.40 206.80 L460.70 200.46 L461.00 206.75 L461.30 202.22 L461.60 206.48 L461.90 202.11 L462.20 207.12 L462.50 202.04 L462.80 206.74 L463.10 201.84 L463.40 206.97 L463.70 201.92 L464.00 207.04 L464.30 202.07 L464.60 206.57 L464.90 201.68 L465.20 206.62 L465.50 201.27 L465.80 206.65 L466.10 201.89 L466.40 206.79 L466.70 198.37 L467.00 207.27 L467.30 198.06 L467.60 206.90 L467.90 197.88 L468.20 206.84 L468.50 199.31 L468.80 206.56 L469.10 199.05 L469.40 206.78 L469.70 199.43 L470.00 206.54 L470.30 202.25 L470.60 206.76 L470.90 202.29 L471.20 206.89 L471.50 202.30 L471.80 206.77 L472.10 202.60 L472.40 207.02 L472.70 202.18 L473.00 207.19 L473.30 202.35 L473.60 206.74 L473.90 202.39 L474.20 206.59 L474.50 202.84 L474.80 206.79 L475.10 203.00 L475.40 207.08 L475.70 202.54 L476.00 207.26 L476.30 202.27 L476.60 206.78 L476.90 202.59 L477.20 206.70 L477.50 201.79 L477.80 207.11 L478.10 200.72 L478.40 207.18 L478.70 200.54 L479.00 206.72 L479.30 198.55 L479.60 207.09 L479.90 199.46 L480.20 206.87 L480.50 198.70 L480.80 206.00 L481.10 196.89 L481.40 206.56 L481.70 196.89 L482.00 206.07 L482.30 197.46 L482.60 205.87 L482.90 196.78 L483.20 205.98 L483.50 197.30 L483.80 205.74 L484.10 197.54 L484.40 205.87 L484.70 196.88 L485.00 205.94 L485.30 197.19 L485.60 205.48 L485.90 199.37 L486.20 205.99 L486.50 199.80 L486.80 205.60 L487.10 199.43 L487.40 206.14 L487.70 199.82 L488.00 206.50 L488.30 199.87 L488.60 206.49 L488.90 200.72 L489.20 206.28 L489.50 200.90 L489.80 205.96 L490.10 200.71 L490.40 206.25 L490.70 201.23 L491.00 206.17 L491.30 199.07 L491.60 206.48 L491.90 199.34 L492.20 206.45 L492.50 194.63 L492.80 206.44 L493.10 194.95 L493.40 205.96 L493.70 194.83 L494.00 206.07 L494.30 189.19 L494.60 205.91 L494.90 189.34 L495.20 206.03 L495.50 190.10 L495.80 205.85 L496.10 189.20 L496.40 204.83 L496.70 189.75 L497.00 204.27 L497.30 195.82 L497.60 204.18 L497.90 196.20 L498.20 204.95 L498.50 202.59 L498.80 204.87 L499.10 203.04 L499.40 205.55 L499.70 202.79 L500.00 205.12 L500.30 202.75 L500.60 205.80 L500.90 196.72 L501.20 205.91 L501.50 196.59 L501.80 206.50 L502.10 196.80 L502.40 206.71 L502.70 196.07 L503.00 206.59 L503.30 196.68 L503.60 206.77 L503.90 203.06 L504.20 206.75 L504.50 203.61 L504.80 206.85 L505.10 203.58 L505.40 207.24 L505.70 203.58 L506.00 207.65 L506.30 203.79 L506.60 207.04 L506.90 203.08 L507.20 207.67 L507.50 202.88 L507.80 207.12 L508.10 202.88 L508.40 206.91 L508.70 202.43 L509.00 207.39 L509.30 202.71 L509.60 206.75 L509.90 203.03 L510.20 207.24 L510.50 201.17 L510.80 206.49 L511.10 200.48 L511.40 206.44 L511.70 200.63 L512.00 206.72 L512.30 201.32 L512.60 206.62 L512.90 200.76 L513.20 206.02 L513.50 201.01 L513.80 206.23 L514.10 201.01 L514.40 206.45 L514.70 201.04 L515.00 206.28 L515.30 201.32 L515.60 206.76 L515.90 201.64 L516.20 207.20 L516.50 202.63 L516.80 206.58 L517.10 202.45 L517.40 206.98 L517.70 202.96 L518.00 207.05 L518.30 202.30 L518.60 207.01 L518.90 202.96 L519.20 207.03 L519.50 198.35 L519.80 206.95 L520.10 197.94 L520.40 206.66 L520.70 198.27 L521.00 206.98 L521.30 198.62 L521.60 207.26 L521.90 198.05 L522.20 206.67 L522.50 198.18 L522.80 207.22 L523.10 202.89 L523.40 206.60 L523.70 202.27 L524.00 207.25 L524.30 202.96 L524.60 206.61 L524.90 202.76 L525.20 207.19 L525.50 200.04 L525.80 206.92 L526.10 199.95 L526.40 206.95 L526.70 199.92 L527.00 206.91 L527.30 199.42 L527.60 207.07 L527.90 199.15 L528.20 206.84 L528.50 203.62 L528.80 206.82 L529.10 203.61 L529.40 206.76 L529.70 203.59 L530.00 207.15 L530.30 203.60 L530.60 207.08 L530.90 203.65 L531.20 207.09 L531.50 203.51 L531.80 207.03 L532.10 204.10 L532.40 206.80 L532.70 204.11 L533.00 207.06 L533.30 204.30 L533.60 207.05 L533.90 203.53 L534.20 206.82 L534.50 204.38 L534.80 206.83 L535.10 204.21 L535.40 206.75 L535.70 203.82 L536.00 207.26 L536.30 204.15 L536.60 207.14 L536.90 204.49 L537.20 206.67 L537.50 203.91 L537.80 207.18 L538.10 204.42 L538.40 207.09 L538.70 204.39 L539.00 206.64 L539.30 204.33 L539.60 206.95 L539.90 204.04 L540.20 207.18 L540.50 204.15 L540.80 207.18 L541.10 204.41 L541.40 207.03 L541.70 203.71 L542.00 207.07 L542.30 203.76 L542.60 207.18 L542.90 203.94 L543.20 207.54 L543.50 204.25 L543.80 206.86 L544.10 204.19 L544.40 207.51 L544.70 204.14 L545.00 207.12 L545.30 204.19 L545.60 206.60 L545.90 203.51 L546.20 206.57 L546.50 203.99 L546.80 206.69 L547.10 204.27 L547.40 206.72 L547.70 202.66 L548.00 207.06 L548.30 202.34 L548.60 207.14 L548.90 202.28 L549.20 207.16 L549.50 203.05 L549.80 206.48 L550.10 202.44 L550.40 207.00 L550.70 202.84 L551.00 206.59 L551.30 202.35 L551.60 207.00 L551.90 202.82 L552.20 206.49 L552.50 203.10 L552.80 206.77 L553.10 202.97 L553.40 206.68 L553.70 202.62 L554.00 206.67 L554.30 203.05 L554.60 207.09 L554.90 202.47 L555.20 206.78 L555.50 202.62 L555.80 207.17 L556.10 202.93 L556.40 206.66 L556.70 202.90 L557.00 206.84 L557.30 203.59 L557.60 206.86 L557.90 203.05 L558.20 206.57 L558.50 202.94 L558.80 207.22 L559.10 203.43 L559.40 207.07 L559.70 203.44 L560.00 207.16 L560.30 202.99 L560.60 206.67 L560.90 203.05 L561.20 206.54 L561.50 203.77 L561.80 207.06 L562.10 203.57 L562.40 206.64 L562.70 204.16 L563.00 207.26 L563.30 203.98 L563.60 207.00 L563.90 204.01 L564.20 207.07 L564.50 204.04 L564.80 206.96 L565.10 204.15 L565.40 207.23 L565.70 204.24 L566.00 207.20 L566.30 202.43 L566.60 207.20 L566.90 202.33 L567.20 206.83 L567.50 202.39 L567.80 206.94 L568.10 203.19 L568.40 206.49 L568.70 203.20 L569.00 206.88 L569.30 203.20 L569.60 206.97 L569.90 202.47 L570.20 207.27 L570.50 202.71 L570.80 206.73 L571.10 202.66 L571.40 206.39 L571.70 202.62 L572.00 206.23 L572.30 202.86 L572.60 206.52 L572.90 202.96 L573.20 206.02 L573.50 201.34 L573.80 206.27 L574.10 200.96 L574.40 206.04 L574.70 200.54 L575.00 206.18 L575.30 201.26 L575.60 206.50 L575.90 201.27 L576.20 205.48 L576.50 201.91 L576.80 205.91 L577.10 205.34 L577.40 206.39 L577.70 205.41 L578.00 206.45 L578.30 205.11 L578.60 206.18 L578.90 205.42 L579.20 206.62 L579.50 204.94 L579.80 206.47 L580.10 205.18 L580.40 206.01 L580.70 205.20 L581.00 206.16 L581.30 205.43 L581.60 206.29 L581.90 205.21 L582.20 206.30 L582.50 205.42 L582.80 206.26 L583.10 205.30 L583.40 206.39 L583.70 204.33 L584.00 206.01 L584.30 204.36 L584.60 205.76 L584.90 204.62 L585.20 205.40 L585.50 204.33 L585.80 205.55 L586.10 204.43 L586.40 205.98 L586.70 204.62 L587.00 205.69 L587.30 204.30 L587.60 205.77 L587.90 204.29 L588.20 205.95 L588.50 205.17 L588.80 206.13 L589.10 205.16 L589.40 206.13 L589.70 205.01 L590.00 206.40 L590.30 205.47 L590.60 205.94 L590.90 205.28 L591.20 206.18 L591.50 204.75 L591.80 206.38 L592.10 204.98 L592.40 207.31 L592.70 203.52 L593.00 207.50 L593.30 203.65 L593.60 207.18 L593.90 203.92 L594.20 207.12 L594.50 201.71 L594.80 207.37 L595.10 202.32 L595.40 207.26 L595.70 201.97 L596.00 207.22 L596.30 200.94 L596.60 207.03 L596.90 200.76 L597.20 207.11 L597.50 201.18 L597.80 206.63 L598.10 202.33 L598.40 206.66 L598.70 201.72 L599.00 206.59 L599.30 201.82 L599.60 206.98 L599.90 201.87 L600.20 206.90 L600.50 202.35 L600.80 206.65 L601.10 201.92 L601.40 206.90 L601.70 202.53 L602.00 206.83 L602.30 201.89 L602.60 206.81 L602.90 202.45 L603.20 206.72 L603.50 201.93 L603.80 206.02 L604.10 202.23 L604.40 206.28 L604.70 202.40 L605.00 206.11 L605.30 202.45 L605.60 206.02 L605.90 202.61 L606.20 206.08 L606.50 202.36 L606.80 205.71 L607.10 202.50 L607.40 205.48 L607.70 203.98 L608.00 205.52 L608.30 203.95 L608.60 205.76 L608.90 200.48 L609.20 205.74 L609.50 200.41 L609.80 205.87 L610.10 200.84 L610.40 205.83 L610.70 201.13 L611.00 205.73 L611.30 200.77 L611.60 205.58 L611.90 200.66 L612.20 205.51 L612.50 200.45 L612.80 205.98 L613.10 200.54 L613.40 205.57 L613.70 200.09 L614.00 206.00 L614.30 199.87 L614.60 205.94 L614.90 200.65 L615.20 205.71 L615.50 200.04 L615.80 205.81 L616.10 203.00 L616.40 205.18 L616.70 203.69 L617.00 205.10 L617.30 203.34 L617.60 205.38 L617.90 201.95 L618.20 204.87" fill="none" stroke="#1f77b4" stroke-width="1.1" stroke-linejoin="round"/><path d="M97.50 207.95V179.88M483.50 206.64V184.88M602.50 207.36V186.75M611.38 206.74V189.25" fill="none" stroke="#1f77b4" stroke-width="2.5" stroke-linecap="round"/></g>
<path d="M77.5 210.5v4.86M167.5 210.5v4.86M257.5 210.5v4.86M348.5 210.5v4.86M438.5 210.5v4.86M528.5 210.5v4.86M618.5 210.5v4.86M77.5 210.5h-4.86M77.5 192.5h-4.86M77.5 173.5h-4.86M77.5 154.5h-4.86" stroke="#000" stroke-width="1.11" fill="none"/>
<rect x="77.5" y="152.5" width="541.0" height="58.0" fill="none" stroke="#000" stroke-width="1.11"/>
<text class="s" font-size="13.9" x="74.03" y="230.00">0</text>
<text class="s" font-size="13.9" x="163.90" y="230.00">4</text>
<text class="s" font-size="13.9" x="253.83" y="230.00">8</text>
<text class="s" font-size="13.9" x="340.02" y="230.00">12</text>
<text class="s" font-size="13.9" x="429.85" y="230.00">16</text>
<text class="s" font-size="13.9" x="521.01" y="230.00">20</text>
<text class="s" font-size="13.9" x="611.15" y="230.00">24</text>
<text class="s" font-size="13.9" x="60.78" y="215.00">0</text>
<text class="s" font-size="13.9" x="39.93" y="196.00">4000</text>
<text class="s" font-size="13.9" x="39.93" y="178.00">8000</text>
<text class="s" font-size="13.9" x="31.98" y="159.00">12000</text>
<path d="M77.5 268.5V327.5M167.5 268.5V327.5M257.5 268.5V327.5M348.5 268.5V327.5M438.5 268.5V327.5M528.5 268.5V327.5M618.5 268.5V327.5M77.5 327.5H618.5M77.5 315.5H618.5M77.5 303.5H618.5M77.5 292.5H618.5M77.5 280.5H618.5M77.5 268.5H618.5" stroke="#b0b0b0" stroke-width="1.11" fill="none"/>
<clipPath id="c2"><rect x="77.5" y="268.5" width="541.0" height="59.0"/></clipPath><g clip-path="url(#c2)"><path d="M77.8 312.8H618.2" fill="none" stroke="#1f77b4" stroke-width="2.08"/></g>
<path d="M77.5 327.5v4.86M167.5 327.5v4.86M257.5 327.5v4.86M348.5 327.5v4.86M438.5 327.5v4.86M528.5 327.5v4.86M618.5 327.5v4.86M77.5 327.5h-4.86M77.5 315.5h-4.86M77.5 303.5h-4.86M77.5 292.5h-4.86M77.5 280.5h-4.86M77.5 268.5h-4.86" stroke="#000" stroke-width="1.11" fill="none"/>
<rect x="77.5" y="268.5" width="541.0" height="59.0" fill="none" stroke="#000" stroke-width="1.11"/>
<text class="s" font-size="13.9" x="74.03" y="346.00">0</text>
<text class="s" font-size="13.9" x="163.90" y="346.00">4</text>
<text class="s" font-size="13.9" x="253.83" y="346.00">8</text>
<text class="s" font-size="13.9" x="340.02" y="346.00">12</text>
<text class="s" font-size="13.9" x="429.85" y="346.00">16</text>
<text class="s" font-size="13.9" x="521.01" y="346.00">20</text>
<text class="s" font-size="13.9" x="611.15" y="346.00">24</text>
<text class="s" font-size="13.9" x="52.93" y="331.00">20</text>
<text class="s" font-size="13.9" x="60.53" y="320.00">0</text>
<text class="s" font-size="13.9" x="53.58" y="308.00">20</text>
<text class="s" font-size="13.9" x="53.58" y="296.00">40</text>
<text class="s" font-size="13.9" x="53.58" y="285.00">60</text>
<text class="s" font-size="13.9" x="53.58" y="273.00">80</text>
<path d="M43.36 328.40h8.2" stroke="#000" stroke-width="0.7" fill="none"/>
<path d="M77.5 385.5V443.5M167.5 385.5V443.5M257.5 385.5V443.5M348.5 385.5V443.5M438.5 385.5V443.5M528.5 385.5V443.5M618.5 385.5V443.5M77.5 443.5H618.5M77.5 423.5H618.5M77.5 404.5H618.5M77.5 385.5H618.5" stroke="#b0b0b0" stroke-width="1.11" fill="none"/>
<clipPath id="c3"><rect x="77.5" y="385.5" width="541.0" height="58.0"/></clipPath><g clip-path="url(#c3)"><path d="M77.90 399.62 L79.10 399.62 L79.10 394.77 L81.60 394.77 L81.60 399.62 L81.62 399.62 L81.62 394.77 L91.62 394.77 L91.62 399.62 L92.42 399.62 L92.42 394.77 L93.62 394.77 L93.62 399.62 L95.33 399.62 L95.33 394.77 L96.12 394.77 L96.12 399.62 L97.50 399.62 L97.50 404.48 L98.88 404.48 L98.88 394.77 L104.12 394.77 L104.12 399.62 L106.00 399.62 L106.00 404.48 L106.80 404.48 L106.80 399.62 L107.60 399.62 L107.60 404.48 L109.30 404.48 L109.30 399.62 L110.50 399.62 L110.50 404.48 L111.00 404.48 L111.00 409.34 L112.50 409.34 L112.50 394.77 L119.75 394.77 L119.75 404.48 L121.00 404.48 L121.00 399.62 L125.00 399.62 L125.00 409.34 L128.50 409.34 L128.50 399.62 L129.75 399.62 L129.75 409.34 L131.45 409.34 L131.45 404.48 L132.62 404.48 L132.62 414.20 L133.75 414.20 L133.75 409.34 L134.75 409.34 L134.75 409.34 L136.45 409.34 L136.45 399.62 L137.88 399.62 L137.88 399.62 L140.12 399.62 L140.12 404.48 L141.25 404.48 L141.25 399.62 L144.12 399.62 L144.12 404.48 L146.62 404.48 L146.62 399.62 L149.12 399.62 L149.12 404.48 L149.75 404.48 L149.75 394.77 L151.00 394.77 L151.00 399.62 L151.80 399.62 L151.80 394.77 L152.88 394.77 L152.88 394.77 L156.00 394.77 L156.00 394.77 L157.88 394.77 L157.88 404.48 L158.68 404.48 L158.68 399.62 L161.18 399.62 L161.18 404.48 L162.25 404.48 L162.25 399.62 L170.38 399.62 L170.38 389.91 L176.00 389.91 L176.00 385.05 L177.88 385.05 L177.88 394.77 L178.68 394.77 L178.68 389.91 L179.88 389.91 L179.88 394.77 L180.38 394.77 L180.38 389.91 L183.50 389.91 L183.50 394.77 L185.38 394.77 L185.38 399.62 L188.50 399.62 L188.50 404.48 L190.20 404.48 L190.20 399.62 L191.90 399.62 L191.90 404.48 L192.88 404.48 L192.88 399.62 L194.75 399.62 L194.75 389.91 L195.75 389.91 L195.75 394.77 L198.25 394.77 L198.25 385.05 L200.75 385.05 L200.75 394.77 L201.00 394.77 L201.00 399.62 L202.20 399.62 L202.20 389.91 L203.40 389.91 L203.40 399.62 L205.10 399.62 L205.10 389.91 L205.38 389.91 L205.38 389.91 L208.50 389.91 L208.50 394.77 L210.20 394.77 L210.20 385.05 L211.40 385.05 L211.40 394.77 L211.62 394.77 L211.62 394.77 L212.82 394.77 L212.82 389.91 L213.50 389.91 L213.50 394.77 L221.62 394.77 L221.62 399.62 L222.88 399.62 L222.88 404.48 L224.75 404.48 L224.75 399.62 L229.12 399.62 L229.12 399.62 L230.82 399.62 L230.82 394.77 L233.32 394.77 L233.32 399.62 L235.82 399.62 L235.82 394.77 L236.00 394.77 L236.00 399.62 L237.70 399.62 L237.70 394.77 L239.40 394.77 L239.40 399.62 L240.60 399.62 L240.60 394.77 L241.40 394.77 L241.40 399.62 L241.62 399.62 L241.62 394.77 L246.00 394.77 L246.00 399.62 L250.38 399.62 L250.38 394.77 L254.75 394.77 L254.75 389.91 L257.25 389.91 L257.25 385.05 L259.12 385.05 L259.12 399.62 L259.93 399.62 L259.93 394.77 L261.62 394.77 L261.62 399.62 L262.43 399.62 L262.43 394.77 L262.88 394.77 L262.88 394.77 L266.00 394.77 L266.00 389.91 L267.88 389.91 L267.88 394.77 L269.12 394.77 L269.12 399.62 L270.32 399.62 L270.32 394.77 L272.02 394.77 L272.02 399.62 L272.82 399.62 L272.82 394.77 L273.62 394.77 L273.62 399.62 L276.12 399.62 L276.12 394.77 L276.93 394.77 L276.93 399.62 L278.12 399.62 L278.12 394.77 L280.62 394.77 L280.62 399.62 L283.12 399.62 L283.12 394.77 L284.82 394.77 L284.82 399.62 L287.32 399.62 L287.32 394.77 L289.82 394.77 L289.82 399.62 L291.00 399.62 L291.00 394.77 L293.50 394.77 L293.50 389.91 L295.20 389.91 L295.20 394.77 L295.38 394.77 L295.38 389.91 L298.50 389.91 L298.50 394.77 L299.75 394.77 L299.75 399.62 L301.45 399.62 L301.45 394.77 L301.62 394.77 L301.62 394.77 L305.38 394.77 L305.38 404.48 L307.50 404.48 L307.50 409.34 L309.12 409.34 L309.12 404.48 L309.93 404.48 L309.93 399.62 L310.73 399.62 L310.73 404.48 L313.23 404.48 L313.23 399.62 L315.73 399.62 L315.73 404.48 L316.00 404.48 L316.00 399.62 L317.88 399.62 L317.88 404.48 L318.68 404.48 L318.68 399.62 L319.88 399.62 L319.88 404.48 L321.07 404.48 L321.07 399.62 L321.62 399.62 L321.62 399.62 L326.00 399.62 L326.00 404.48 L327.25 404.48 L327.25 394.77 L332.25 394.77 L332.25 399.62 L332.88 399.62 L332.88 404.48 L334.12 404.48 L334.12 399.62 L342.88 399.62 L342.88 404.48 L347.88 404.48 L347.88 409.34 L354.12 409.34 L354.12 414.20 L355.38 414.20 L355.38 409.34 L360.38 409.34 L360.38 404.48 L368.50 404.48 L368.50 399.62 L370.38 399.62 L370.38 394.77 L372.25 394.77 L372.25 404.48 L373.50 404.48 L373.50 394.77 L376.00 394.77 L376.00 399.62 L377.70 399.62 L377.70 394.77 L378.50 394.77 L378.50 394.77 L380.38 394.77 L380.38 399.62 L381.00 399.62 L381.00 404.48 L381.80 404.48 L381.80 399.62 L382.88 399.62 L382.88 399.62 L385.38 399.62 L385.38 404.48 L387.88 404.48 L387.88 399.62 L388.68 399.62 L388.68 404.48 L389.75 404.48 L389.75 399.62 L391.00 399.62 L391.00 394.77 L392.88 394.77 L392.88 399.62 L393.75 399.62 L393.75 404.48 L396.00 404.48 L396.00 399.62 L399.75 399.62 L399.75 394.77 L401.00 394.77 L401.00 399.62 L401.80 399.62 L401.80 394.77 L403.00 394.77 L403.00 399.62 L404.70 399.62 L404.70 394.77 L404.75 394.77 L404.75 394.77 L409.75 394.77 L409.75 399.62 L411.62 399.62 L411.62 404.48 L412.43 404.48 L412.43 399.62 L413.62 399.62 L413.62 404.48 L414.43 404.48 L414.43 399.62 L415.62 399.62 L415.62 404.48 L417.32 404.48 L417.32 399.62 L419.82 399.62 L419.82 404.48 L420.38 404.48 L420.38 399.62 L428.50 399.62 L428.50 404.48 L431.62 404.48 L431.62 399.62 L438.50 399.62 L438.50 404.48 L439.75 404.48 L439.75 399.62 L441.62 399.62 L441.62 394.77 L445.38 394.77 L445.38 399.62 L447.88 399.62 L447.88 404.48 L449.12 404.48 L449.12 409.34 L450.62 409.34 L450.62 414.20 L452.25 414.20 L452.25 404.48 L455.38 404.48 L455.38 409.34 L456.18 409.34 L456.18 404.48 L458.68 404.48 L458.68 409.34 L459.88 409.34 L459.88 404.48 L461.57 404.48 L461.57 409.34 L463.27 409.34 L463.27 404.48 L464.12 404.48 L464.12 414.20 L465.38 414.20 L465.38 409.34 L466.57 409.34 L466.57 404.48 L467.88 404.48 L467.88 404.48 L472.25 404.48 L472.25 414.20 L474.12 414.20 L474.12 409.34 L474.93 409.34 L474.93 404.48 L476.00 404.48 L476.00 409.34 L476.62 409.34 L476.62 404.48 L494.75 404.48 L494.75 409.34 L496.62 409.34 L496.62 414.20 L499.12 414.20 L499.12 409.34 L500.32 409.34 L500.32 414.20 L500.38 414.20 L500.38 409.34 L501.62 409.34 L501.62 409.34 L502.43 409.34 L502.43 404.48 L503.23 404.48 L503.23 409.34 L504.93 409.34 L504.93 404.48 L505.73 404.48 L505.73 409.34 L506.53 409.34 L506.53 404.48 L507.73 404.48 L507.73 409.34 L508.53 409.34 L508.53 404.48 L509.73 404.48 L509.73 409.34 L512.23 409.34 L512.23 404.48 L513.43 404.48 L513.43 409.34 L514.63 409.34 L514.63 404.48 L515.83 404.48 L515.83 409.34 L517.03 409.34 L517.03 404.48 L519.53 404.48 L519.53 409.34 L520.33 409.34 L520.33 404.48 L520.38 404.48 L520.38 399.62 L523.50 399.62 L523.50 404.48 L530.38 404.48 L530.38 409.34 L531.62 409.34 L531.62 414.20 L532.83 414.20 L532.83 409.34 L534.53 409.34 L534.53 414.20 L536.23 414.20 L536.23 409.34 L537.25 409.34 L537.25 409.34 L542.25 409.34 L542.25 414.20 L543.50 414.20 L543.50 404.48 L545.38 404.48 L545.38 409.34 L547.88 409.34 L547.88 404.48 L550.38 404.48 L550.38 409.34 L550.75 409.34 L550.75 409.34 L554.12 409.34 L554.12 414.20 L555.33 414.20 L555.33 409.34 L557.83 409.34 L557.83 414.20 L558.62 414.20 L558.62 409.34 L559.42 409.34 L559.42 414.20 L560.22 414.20 L560.22 409.34 L560.38 409.34 L560.38 419.06 L561.62 419.06 L561.62 414.20 L565.38 414.20 L565.38 419.06 L566.58 419.06 L566.58 414.20 L567.78 414.20 L567.78 419.06 L569.48 419.06 L569.48 414.20 L569.75 414.20 L569.75 404.48 L573.50 404.48 L573.50 409.34 L574.50 409.34 L574.50 404.48 L575.38 404.48 L575.38 404.48 L576.58 404.48 L576.58 399.62 L577.78 399.62 L577.78 404.48 L578.98 404.48 L578.98 399.62 L579.12 399.62 L579.12 399.62 L583.50 399.62 L583.50 404.48 L585.38 404.48 L585.38 409.34 L586.17 409.34 L586.17 399.62 L588.67 399.62 L588.67 409.34 L589.88 409.34 L589.88 399.62 L590.38 399.62 L590.38 389.91 L594.75 389.91 L594.75 394.77 L599.75 394.77 L599.75 399.62 L602.25 399.62 L602.25 394.77 L603.05 394.77 L603.05 399.62 L605.55 399.62 L605.55 394.77 L606.35 394.77 L606.35 399.62 L606.62 399.62 L606.62 399.62 L610.38 399.62 L610.38 404.48 L612.00 404.48 L612.00 394.77 L614.75 394.77 L614.75 399.62 L615.55 399.62 L615.55 394.77 L616.35 394.77 L616.35 399.62 L618.20 399.62" fill="none" stroke="#1f77b4" stroke-width="2.08" stroke-linejoin="round"/></g>
<path d="M77.5 443.5v4.86M167.5 443.5v4.86M257.5 443.5v4.86M348.5 443.5v4.86M438.5 443.5v4.86M528.5 443.5v4.86M618.5 443.5v4.86M77.5 443.5h-4.86M77.5 423.5h-4.86M77.5 404.5h-4.86M77.5 385.5h-4.86" stroke="#000" stroke-width="1.11" fill="none"/>
<rect x="77.5" y="385.5" width="541.0" height="58.0" fill="none" stroke="#000" stroke-width="1.11"/>
<text class="s" font-size="13.9" x="74.03" y="462.00">0</text>
<text class="s" font-size="13.9" x="163.90" y="462.00">4</text>
<text class="s" font-size="13.9" x="253.83" y="462.00">8</text>
<text class="s" font-size="13.9" x="340.02" y="462.00">12</text>
<text class="s" font-size="13.9" x="429.85" y="462.00">16</text>
<text class="s" font-size="13.9" x="521.01" y="462.00">20</text>
<text class="s" font-size="13.9" x="611.15" y="462.00">24</text>
<text class="s" font-size="13.9" x="60.78" y="448.00">0</text>
<text class="s" font-size="13.9" x="60.47" y="428.00">4</text>
<text class="s" font-size="13.9" x="60.78" y="409.00">8</text>
<text class="s" font-size="13.9" x="53.07" y="389.00">12</text>
<text class="t" font-size="16.8" transform="translate(88.77 28.00) scale(0.9617 1)">H</text>
<text class="t" font-size="15.0" transform="translate(100.44 28.00) scale(0.9617 1)">oward</text>
<text class="t" font-size="16.8" transform="translate(296.34 28.00) scale(0.9585 1)">T</text>
<text class="t" font-size="15.0" transform="translate(306.17 28.00) scale(0.9585 1)">hreshold</text>
<text class="t" font-size="15.9" transform="translate(522.99 28.00) scale(0.8937 1.0000)">2025</text>
<text class="t" font-size="15.9" transform="translate(564.57 28.00) scale(0.7644 1.0000)">11</text>
<text class="t" font-size="15.9" transform="translate(587.15 28.00) scale(0.8828 1.0000)">09</text>
<path d="M556.3 31.6L561.8 15.9M580.2 31.6L585.7 15.9" stroke="#000" stroke-width="0.95" fill="none"/>
<text class="t" font-size="16.8" transform="translate(306.63 144.00) scale(0.9682 1)">T</text>
<text class="t" font-size="15.0" transform="translate(315.43 144.00) scale(0.9682 1)">riggers</text>
<text class="t" font-size="15.0" transform="translate(367.94 144.00) scale(0.8522 1.0000)">sec</text>
<path d="M361.5 147.1L366.3 132.3" stroke="#000" stroke-width="0.95" fill="none"/>
<text class="t" font-size="16.8" transform="translate(305.52 259.00) scale(1.0082 1)">T</text>
<text class="t" font-size="15.0" transform="translate(313.83 259.00) scale(1.0082 1)">emperature</text>
<text class="t" font-size="16.8" transform="translate(287.85 376.00) scale(0.9875 1)">S</text>
<text class="t" font-size="15.0" transform="translate(298.91 376.00) scale(0.9875 1)">atellites</text>
<text class="t" font-size="16.8" transform="translate(354.84 376.00) scale(0.9609 1)">T</text>
<text class="t" font-size="15.0" transform="translate(363.57 376.00) scale(0.9609 1)">racked</text>
<text class="t" font-size="12.5" transform="translate(28.00 79.02) rotate(-90) scale(0.9979 1)">d</text>
<text class="t" font-size="14.0" transform="translate(28.00 72.09) rotate(-90) scale(0.9979 1)">B</text>
<text class="t" font-size="12.5" transform="translate(28.00 62.77) rotate(-90) scale(0.9979 1)">m</text>
<text class="t" font-size="14.0" transform="translate(25.00 198.72) rotate(-90) scale(1.0108 1)">C</text>
<text class="t" font-size="12.5" transform="translate(25.00 188.50) rotate(-90) scale(1.0108 1)">ount</text>
<text class="t" font-size="14.0" transform="translate(35.00 298.35) rotate(-90) scale(0.7726 1.0000)">C</text>
<circle cx="27.55" cy="302.2" r="1.9" fill="none" stroke="#000" stroke-width="0.6"/>
<text class="t" font-size="14.0" transform="translate(45.00 437.43) rotate(-90) scale(0.9868 1)">N</text>
<text class="t" font-size="12.5" transform="translate(45.00 427.46) rotate(-90) scale(0.9868 1)">umber</text>
</svg></body></html>
